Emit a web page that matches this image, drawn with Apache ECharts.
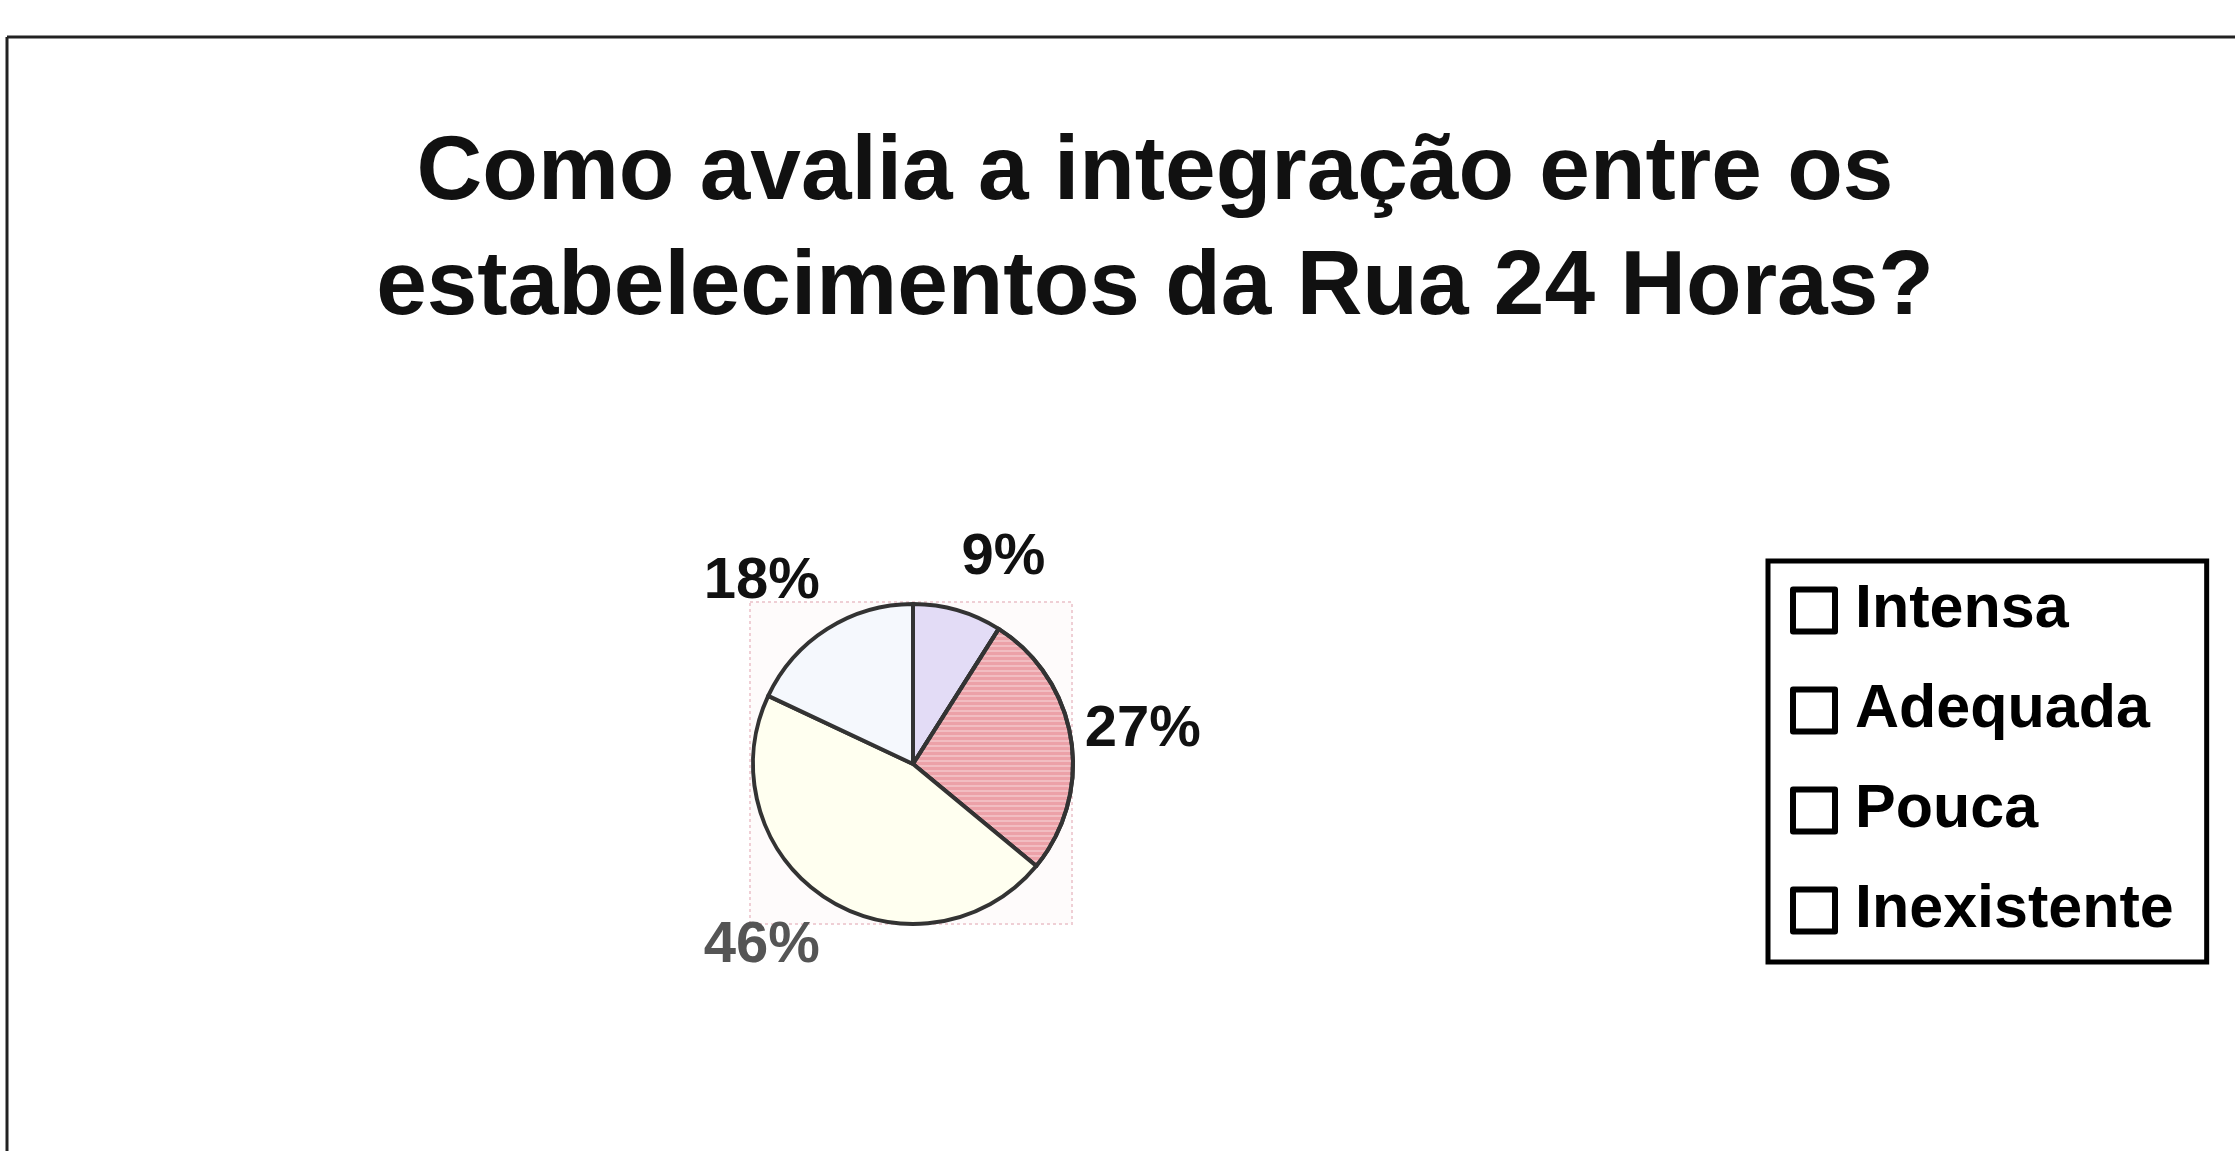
<!DOCTYPE html>
<html>
<head>
<meta charset="utf-8">
<script src="https://cdn.jsdelivr.net/npm/echarts@6/dist/echarts.min.js"></script>
<style>
  html, body { margin: 0; padding: 0; background: #fff; }
  #chart { width: 2235px; height: 1151px; }
</style>
</head>
<body>
<div id="chart"></div>
<script>
// dados
var categorias = ['Intensa', 'Adequada', 'Pouca', 'Inexistente'];
var percentagens = [9, 27, 46, 18];
var cores = ['#e3dcf6', '#eca1a8', '#fffff0', '#f5f8fd'];
var coresRotulo = ['#111', '#111', '#555', '#111'];

var centroX = 913, centroY = 764, raio = 160;

var myChart = echarts.init(document.getElementById('chart'));

var total = percentagens.reduce(function (a, b) { return a + b; }, 0);
// ângulo médio de cada fatia (graus, sentido horário a partir do topo)
function anguloMedio(idx) {
    var acum = 0;
    for (var i = 0; i < idx; i++) acum += percentagens[i];
    return (acum + percentagens[idx] / 2) / total * 360;
}

var dados = [];
for (var i = 0; i < categorias.length; i++) {
    var estilo = { color: cores[i] };
    if (i === 1) {
        // tracejado horizontal da fatia "Adequada"
        estilo.decal = {
            symbol: 'rect', symbolSize: 1,
            dashArrayX: [1, 0], dashArrayY: [2, 3],
            color: 'rgba(255,255,255,0.3)'
        };
    }
    dados.push({
        name: categorias[i],
        value: percentagens[i],
        itemStyle: estilo,
        label: { color: coresRotulo[i] }
    });
}

myChart.setOption({
    backgroundColor: '#fff',
    animation: false,
    title: {
        text: 'Como avalia a integração entre os\nestabelecimentos da Rua 24 Horas?',
        left: 1150,
        top: 111,
        textAlign: 'center',
        textStyle: {
            color: '#111',
            fontFamily: 'Liberation Sans, Arial, sans-serif',
            fontWeight: 'bold',
            fontSize: 91,
            lineHeight: 115
        }
    },
    legend: {
        orient: 'vertical',
        left: 1768,
        top: 561,
        padding: [19, 33, 21, 22],
        borderColor: '#000',
        borderWidth: 5,
        backgroundColor: '#fff',
        itemWidth: 42,
        itemHeight: 42,
        itemGap: 39,
        icon: 'rect',
        itemStyle: { color: '#fff', borderColor: '#000', borderWidth: 6, decal: 'none' },
        data: categorias,
        selectedMode: false,
        textStyle: {
            color: '#000',
            fontFamily: 'Liberation Sans, Arial, sans-serif',
            fontWeight: 'bold',
            fontSize: 61,
            lineHeight: 60,
            padding: [0, 0, 0, 15]
        }
    },
    graphic: [
        // moldura do diapositivo
        { type: 'line', shape: { x1: 7, y1: 37, x2: 2235, y2: 37 }, style: { stroke: '#222', lineWidth: 3 } },
        { type: 'line', shape: { x1: 7, y1: 37, x2: 7, y2: 1151 }, style: { stroke: '#222', lineWidth: 3 } },
        // área do gráfico (rosa claro)
        {
            type: 'rect', z: -1,
            shape: { x: centroX - raio - 3, y: centroY - raio - 2, width: 2 * raio + 2, height: 2 * raio + 2 },
            style: { fill: '#fefbfb', stroke: '#efcfd5', lineWidth: 2, lineDash: [3, 3] }
        }
    ],
    series: [
        {
            type: 'pie',
            center: [centroX, centroY],
            radius: raio,
            startAngle: 90,
            clockwise: true,
            avoidLabelOverlap: false,
            data: dados,
            itemStyle: { borderColor: '#333', borderWidth: 4 },
            label: {
                show: true,
                position: 'outside',
                formatter: '{c}%',
                fontFamily: 'Liberation Sans, Arial, sans-serif',
                fontWeight: 'bold',
                fontSize: 58
            },
            labelLine: { show: false },
            labelLayout: function (params) {
                var a = anguloMedio(params.dataIndex) * Math.PI / 180;
                var s = Math.sin(a);
                return {
                    x: centroX + s * (raio + 14),
                    y: centroY - Math.cos(a) * (raio + 55),
                    align: s >= 0 ? 'left' : 'right',
                    verticalAlign: 'middle'
                };
            },
            emphasis: { disabled: true }
        }
    ]
});
</script>
</body>
</html>
